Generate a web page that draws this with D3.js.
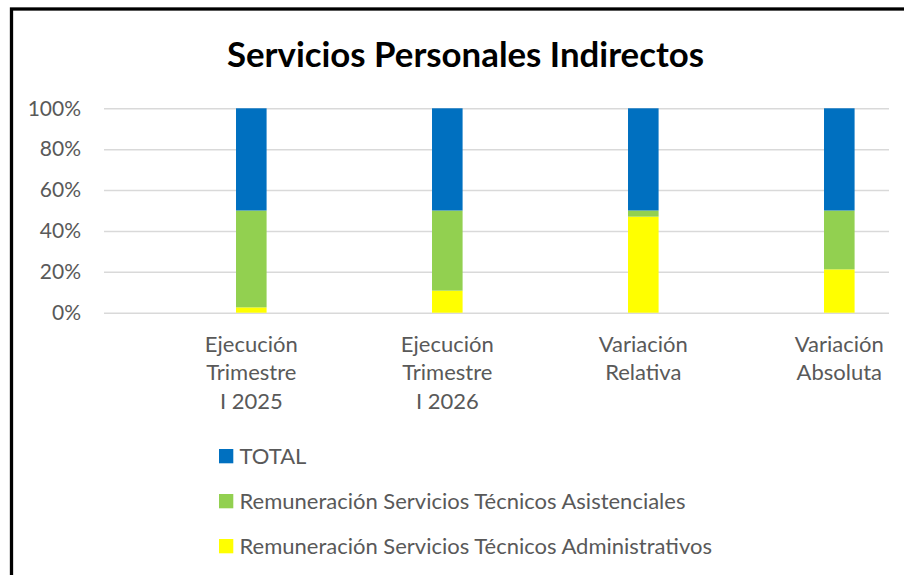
<!DOCTYPE html>
<html>
<head>
<meta charset="utf-8">
<script src="https://cdn.jsdelivr.net/npm/d3@7"></script>
<style>
  body { margin: 0; background: #fff; }
  text { font-family: Lato, "Open Sans", sans-serif; }
</style>
</head>
<body>
<div id="chart"></div>
<script>
// data (shares in %)
const categories = ["Ejecución Trimestre I 2025", "Ejecución Trimestre I 2026", "Variación Relativa", "Variación Absoluta"]
const catLines = [["Ejecución", "Trimestre", "I 2025"], ["Ejecución", "Trimestre", "I 2026"], ["Variación", "Relativa"], ["Variación", "Absoluta"]]
const administrativos = [2.6, 10.8, 47, 21.2]
const asistenciales = [47.4, 39.2, 3, 28.8]
const total = [50, 50, 50, 50]
const yTicks = [0, 0.2, 0.4, 0.6, 0.8, 1]

const seriesNames = ["Remuneración Servicios Técnicos Administrativos", "Remuneración Servicios Técnicos Asistenciales", "TOTAL"]
const colors = { "TOTAL": "#0070C0", "Remuneración Servicios Técnicos Asistenciales": "#92D050", "Remuneración Servicios Técnicos Administrativos": "#FFFF00" }

const W = 904, H = 575
const plot = { left: 104, right: 889, top: 108.3, bottom: 312.7 }

const rows = categories.map((c, i) => ({
  cat: c,
  [seriesNames[0]]: administrativos[i],
  [seriesNames[1]]: asistenciales[i],
  [seriesNames[2]]: total[i]
}))

const stacked = d3.stack().keys(seriesNames).offset(d3.stackOffsetExpand)(rows)

const svg = d3.select("#chart").append("svg")
  .attr("width", W)
  .attr("height", H)

svg.append("rect")
  .attr("x", 0).attr("y", 0).attr("width", W).attr("height", H)
  .attr("fill", "#fff")

// chart frame (right and bottom edges fall outside the picture)
svg.append("rect")
  .attr("x", 11.5).attr("y", 9)
  .attr("width", 920).attr("height", 600)
  .attr("fill", "none")
  .attr("stroke", "#000")
  .attr("stroke-width", 3.3)

svg.append("text")
  .attr("x", 465.5)
  .attr("y", 67.3)
  .attr("text-anchor", "middle")
  .style("font-size", "34.8px")
  .style("font-weight", "bold")
  .attr("fill", "#000")
  .text("Servicios Personales Indirectos")

const x = d3.scaleBand()
  .domain(categories)
  .range([153.3, 937.3])
  .paddingInner(0.844)
  .paddingOuter(0.422)

const y = d3.scaleLinear()
  .domain([0, 1])
  .range([plot.bottom, plot.top])

// gridlines + y labels
const yAxis = svg.append("g")
  .attr("transform", `translate(${plot.left},0)`)
  .call(d3.axisLeft(y).tickValues(yTicks).tickSize(-(plot.right - plot.left)).tickPadding(23).tickFormat(d3.format(".0%")))
yAxis.select(".domain").remove()
yAxis.selectAll(".tick line").attr("stroke", "#d9d9d9").attr("stroke-width", 1.6)
yAxis.selectAll(".tick text")
  .attr("fill", "#595959")
  .style("font-size", "21px")
  .style("font-family", "Lato, sans-serif")

// bars
svg.append("g")
  .selectAll("g")
  .data(stacked)
  .join("g")
  .attr("fill", d => colors[d.key])
  .selectAll("rect")
  .data(d => d)
  .join("rect")
  .attr("x", d => x(d.data.cat))
  .attr("y", d => y(d[1]))
  .attr("width", x.bandwidth())
  .attr("height", d => y(d[0]) - y(d[1]))

// category labels
const catG = svg.append("g")
categories.forEach((c, i) => {
  const t = catG.append("text")
    .attr("x", x(c) + x.bandwidth() / 2)
    .attr("y", 351.7)
    .attr("text-anchor", "middle")
    .attr("fill", "#595959")
    .style("font-size", "22px")
  catLines[i].forEach((line, j) => {
    t.append("tspan")
      .attr("x", x(c) + x.bandwidth() / 2)
      .attr("dy", j === 0 ? 0 : 28.7)
      .text(line)
  })
})

// legend
const legendOrder = ["TOTAL", "Remuneración Servicios Técnicos Asistenciales", "Remuneración Servicios Técnicos Administrativos"]
const legend = svg.append("g")
  .selectAll("g")
  .data(legendOrder)
  .join("g")
  .attr("transform", (d, i) => `translate(219, ${449 + i * 45})`)
legend.append("rect")
  .attr("width", 14.3)
  .attr("height", 14.3)
  .attr("fill", d => colors[d])
legend.append("text")
  .attr("x", 20.5)
  .attr("y", 14.8)
  .attr("fill", "#595959")
  .style("font-size", "22px")
  .text(d => d)
</script>
</body>
</html>
